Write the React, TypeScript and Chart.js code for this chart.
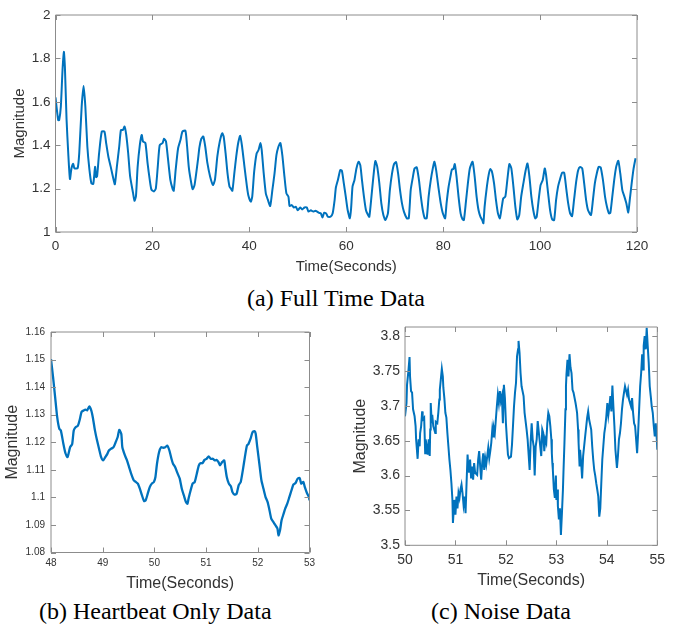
import React, { useEffect, useRef } from "react";
import { Chart, registerables } from "chart.js";

Chart.register(...registerables);

// ---------- (a) Full Time Data ----------
const aTime = [
  0, 0.55, 0.76, 1.1, 1.45, 1.73, 1.94, 2.28, 2.63, 2.98, 3.3, 3.67, 3.9, 4.57, 4.9, 5.4, 5.8, 6.16, 6.57, 7.0,
  7.4, 7.8, 8.17, 8.37, 8.58, 9.0, 9.55, 10.1, 10.45, 10.9, 11.4, 12.0, 12.25, 12.66, 13.15, 13.5, 13.9, 14.25, 14.6, 15.0,
  15.4, 16.0, 16.3, 16.6, 16.95, 17.4, 17.8, 18.06, 18.55, 19.0, 19.45, 19.8, 20.3, 20.7, 21.1, 21.5, 22.1, 22.4, 22.8, 23.2,
  23.7, 24.15, 24.4, 24.8, 25.3, 25.8, 26.2, 26.8, 27.1, 27.5, 27.9, 28.3, 28.7, 29.4, 29.7, 30.1, 30.5, 30.9, 31.35, 31.9,
  32.5, 32.9, 33.4, 33.9, 34.4, 34.7, 35.1, 35.5, 35.9, 36.2, 36.5, 36.9, 37.3, 37.7, 38.1, 38.5, 39.0, 39.5, 39.8, 40.3,
  40.6, 41.0, 41.5, 41.9, 42.3, 42.55, 42.97, 43.4, 43.8, 44.3, 44.75, 45.2, 45.6, 46.0, 46.4, 46.8, 47.25, 47.65, 48.07, 48.3,
  48.76, 49.2, 49.6, 50.0, 50.5, 50.9, 51.4, 51.86, 52.2, 52.7, 53.2, 53.7, 54.3, 54.75, 55.1, 55.45, 55.85, 56.2, 56.75, 57.2,
  57.6, 57.86, 58.3, 58.76, 59.1, 59.5, 59.9, 60.3, 60.75, 61.0, 61.3, 61.7, 62.1, 62.55, 62.9, 63.24, 63.65, 64.07, 64.5, 64.76,
  65.2, 65.6, 66.0, 66.4, 66.83, 67.24, 67.66, 68.07, 68.6, 69.0, 69.45, 69.86, 70.28, 70.7, 71.1, 71.5, 71.9, 72.5, 72.9, 73.3,
  73.7, 74.1, 74.55, 75.0, 75.4, 75.8, 76.2, 76.6, 77.0, 77.45, 77.86, 78.2, 78.55, 79.1, 79.5, 79.93, 80.4, 80.7, 81.1, 81.5,
  81.8, 82.1, 82.4, 82.76, 83.17, 83.6, 84.0, 84.28, 84.7, 85.1, 85.5, 86.07, 86.5, 86.9, 87.3, 87.7, 88.07, 88.3, 88.55, 88.97,
  89.38, 89.72, 90.07, 90.5, 90.9, 91.3, 91.7, 92.1, 92.4, 92.83, 93.24, 93.66, 94.07, 94.5, 94.9, 95.3, 95.7, 96.1, 96.55, 96.97,
  97.4, 97.8, 98.2, 98.6, 99.0, 99.3, 99.7, 100.1, 100.55, 100.97, 101.24, 101.66, 102.07, 102.5, 102.9, 103.3, 103.7, 104.1, 104.55, 104.97,
  105.4, 105.8, 106.2, 106.6, 107.0, 107.45, 107.86, 108.28, 108.7, 109.1, 109.5, 109.9, 110.5, 110.9, 111.3, 111.7, 112.1, 112.5, 112.97, 113.4,
  113.8, 114.2, 114.5, 114.9, 115.3, 115.7, 116.14, 116.55, 116.97, 117.4, 117.8, 118.2, 118.5, 118.9, 119.3, 119.7,
];
const aMag = [
  1.62, 1.516, 1.516, 1.578, 1.746, 1.83, 1.76, 1.52, 1.363, 1.244, 1.294, 1.314, 1.294, 1.294, 1.363, 1.578, 1.673, 1.578, 1.394, 1.287,
  1.225, 1.222, 1.3, 1.253, 1.256, 1.363, 1.463, 1.463, 1.41, 1.348, 1.3, 1.24, 1.22, 1.3, 1.394, 1.47, 1.47, 1.486, 1.447, 1.363,
  1.256, 1.18, 1.144, 1.164, 1.3, 1.4, 1.447, 1.417, 1.41, 1.317, 1.24, 1.195, 1.187, 1.2, 1.3, 1.4, 1.41, 1.43, 1.417, 1.34,
  1.24, 1.2, 1.19, 1.287, 1.386, 1.425, 1.463, 1.467, 1.41, 1.3, 1.24, 1.197, 1.217, 1.333, 1.39, 1.43, 1.44, 1.394, 1.317, 1.256,
  1.217, 1.24, 1.348, 1.417, 1.455, 1.44, 1.363, 1.27, 1.21, 1.2, 1.19, 1.27, 1.348, 1.41, 1.443, 1.394, 1.3, 1.21, 1.168, 1.14,
  1.163, 1.278, 1.362, 1.378, 1.41, 1.378, 1.27, 1.178, 1.15, 1.12, 1.193, 1.27, 1.355, 1.393, 1.41, 1.355, 1.255, 1.178, 1.163, 1.12,
  1.124, 1.113, 1.116, 1.1, 1.113, 1.104, 1.113, 1.113, 1.094, 1.1, 1.094, 1.098, 1.089, 1.086, 1.067, 1.089, 1.086, 1.07, 1.07, 1.086,
  1.147, 1.205, 1.242, 1.285, 1.282, 1.224, 1.163, 1.1, 1.063, 1.109, 1.21, 1.24, 1.293, 1.324, 1.308, 1.24, 1.163, 1.1, 1.078, 1.07,
  1.163, 1.255, 1.327, 1.3, 1.224, 1.132, 1.078, 1.055, 1.086, 1.193, 1.27, 1.313, 1.322, 1.27, 1.193, 1.132, 1.094, 1.063, 1.063, 1.193,
  1.247, 1.293, 1.298, 1.24, 1.163, 1.1, 1.063, 1.063, 1.163, 1.24, 1.293, 1.324, 1.285, 1.193, 1.132, 1.086, 1.063, 1.132, 1.205, 1.255,
  1.288, 1.29, 1.313, 1.255, 1.163, 1.086, 1.058, 1.055, 1.14, 1.224, 1.293, 1.324, 1.255, 1.163, 1.1, 1.07, 1.055, 1.04, 1.116, 1.2,
  1.262, 1.29, 1.278, 1.224, 1.147, 1.086, 1.063, 1.116, 1.155, 1.163, 1.24, 1.313, 1.293, 1.208, 1.116, 1.058, 1.078, 1.163, 1.224, 1.278,
  1.316, 1.255, 1.163, 1.1, 1.063, 1.07, 1.147, 1.216, 1.24, 1.293, 1.262, 1.178, 1.1, 1.058, 1.055, 1.147, 1.208, 1.242, 1.273, 1.273,
  1.2, 1.132, 1.086, 1.073, 1.147, 1.232, 1.285, 1.3, 1.293, 1.224, 1.147, 1.1, 1.078, 1.147, 1.224, 1.27, 1.3, 1.298, 1.24, 1.163,
  1.116, 1.086, 1.088, 1.163, 1.24, 1.3, 1.328, 1.27, 1.193, 1.163, 1.132, 1.09, 1.147, 1.224, 1.293, 1.34,
];
const aXTicks = [0, 20, 40, 60, 80, 100, 120];
const aYTicks = [1, 1.2, 1.4, 1.6, 1.8, 2];

// ---------- (b) Heartbeat Only Data ----------
const bTime = [
  48.0, 48.04, 48.08, 48.12, 48.16, 48.19, 48.24, 48.28, 48.32, 48.37, 48.41, 48.44, 48.48, 48.52, 48.56, 48.59, 48.63, 48.67, 48.7, 48.74,
  48.78, 48.81, 48.85, 48.89, 48.93, 48.97, 49.01, 49.05, 49.09, 49.12, 49.16, 49.21, 49.25, 49.29, 49.32, 49.36, 49.38, 49.43, 49.47, 49.51,
  49.55, 49.6, 49.64, 49.68, 49.72, 49.76, 49.8, 49.83, 49.87, 49.91, 49.95, 49.99, 50.02, 50.05, 50.09, 50.13, 50.17, 50.21, 50.25, 50.29,
  50.33, 50.36, 50.4, 50.45, 50.49, 50.53, 50.57, 50.61, 50.64, 50.66, 50.7, 50.74, 50.78, 50.82, 50.86, 50.89, 50.93, 50.97, 51.01, 51.05,
  51.09, 51.13, 51.17, 51.2, 51.24, 51.27, 51.31, 51.35, 51.37, 51.4, 51.44, 51.48, 51.51, 51.55, 51.59, 51.63, 51.67, 51.71, 51.75, 51.79,
  51.82, 51.86, 51.9, 51.94, 51.96, 51.99, 52.03, 52.07, 52.11, 52.15, 52.19, 52.22, 52.26, 52.3, 52.34, 52.38, 52.4, 52.43, 52.46, 52.5,
  52.53, 52.57, 52.61, 52.65, 52.69, 52.73, 52.77, 52.81, 52.84, 52.88, 52.91, 52.95, 52.99, 53.0,
];
const bMag = [
  1.1502, 1.1436, 1.1364, 1.1291, 1.1249, 1.1243, 1.1194, 1.116, 1.1146, 1.1182, 1.1194, 1.1243, 1.1255, 1.126, 1.1285, 1.131, 1.1315, 1.1318, 1.1316, 1.133,
  1.1315, 1.1289, 1.1243, 1.1207, 1.1176, 1.1146, 1.1134, 1.1146, 1.1158, 1.117, 1.1176, 1.1182, 1.12, 1.1219, 1.1245, 1.123, 1.1182, 1.1152, 1.1134, 1.111,
  1.1086, 1.1062, 1.1056, 1.105, 1.1031, 1.1007, 1.0987, 1.0989, 1.1013, 1.1037, 1.105, 1.1056, 1.1074, 1.1122, 1.1164, 1.1182, 1.118, 1.1182, 1.1188, 1.117,
  1.114, 1.1122, 1.111, 1.1086, 1.1068, 1.1031, 1.1007, 1.0983, 1.0977, 1.0995, 1.1025, 1.105, 1.1056, 1.1086, 1.1116, 1.1124, 1.1124, 1.1136, 1.114, 1.1149,
  1.114, 1.114, 1.1134, 1.1136, 1.1128, 1.1116, 1.1128, 1.1134, 1.111, 1.1074, 1.105, 1.104, 1.1019, 1.101, 1.1013, 1.1044, 1.1056, 1.1098, 1.1146, 1.1188,
  1.1194, 1.1213, 1.1237, 1.124, 1.123, 1.1182, 1.1122, 1.1062, 1.1031, 1.1001, 1.0983, 1.0959, 1.0923, 1.0911, 1.0899, 1.0887, 1.0862, 1.0881, 1.0917, 1.0941,
  1.0959, 1.0977, 1.1001, 1.1025, 1.1047, 1.1052, 1.1068, 1.107, 1.105, 1.1056, 1.1037, 1.1016, 1.1001, 1.0989,
];
const bXTicks = [48, 49, 50, 51, 52, 53];
const bYTicks = [1.08, 1.09, 1.1, 1.11, 1.12, 1.13, 1.14, 1.15, 1.16];

// ---------- (c) Noise Data ----------
const cTime = [
  50.0, 50.03, 50.04, 50.07, 50.09, 50.1, 50.12, 50.14, 50.16, 50.19, 50.21, 50.22, 50.25, 50.27, 50.29, 50.3, 50.32, 50.34, 50.35, 50.38,
  50.4, 50.41, 50.45, 50.47, 50.49, 50.5, 50.51, 50.53, 50.54, 50.56, 50.6, 50.61, 50.64, 50.66, 50.68, 50.69, 50.71, 50.73, 50.75, 50.76,
  50.78, 50.8, 50.82, 50.84, 50.86, 50.88, 50.9, 50.92, 50.94, 50.95, 50.97, 50.99, 51.0, 51.02, 51.04, 51.06, 51.08, 51.1, 51.12, 51.14,
  51.16, 51.18, 51.2, 51.22, 51.24, 51.25, 51.27, 51.29, 51.31, 51.33, 51.35, 51.37, 51.39, 51.43, 51.45, 51.47, 51.49, 51.51, 51.53, 51.55,
  51.57, 51.59, 51.61, 51.63, 51.65, 51.67, 51.69, 51.71, 51.73, 51.75, 51.76, 51.78, 51.8, 51.82, 51.84, 51.86, 51.88, 51.9, 51.92, 51.94,
  51.96, 51.98, 52.0, 52.02, 52.04, 52.06, 52.1, 52.12, 52.14, 52.16, 52.18, 52.2, 52.22, 52.24, 52.25, 52.27, 52.29, 52.31, 52.35, 52.37,
  52.41, 52.43, 52.47, 52.49, 52.51, 52.53, 52.55, 52.57, 52.59, 52.61, 52.63, 52.66, 52.7, 52.72, 52.74, 52.76, 52.78, 52.8, 52.82, 52.84,
  52.86, 52.88, 52.9, 52.91, 52.92, 52.93, 52.95, 52.97, 52.99, 53.0, 53.02, 53.03, 53.05, 53.07, 53.09, 53.11, 53.13, 53.14, 53.16, 53.18,
  53.19, 53.2, 53.22, 53.24, 53.26, 53.28, 53.3, 53.32, 53.34, 53.38, 53.4, 53.41, 53.43, 53.44, 53.46, 53.47, 53.49, 53.51, 53.53, 53.57,
  53.61, 53.63, 53.65, 53.69, 53.71, 53.73, 53.75, 53.77, 53.79, 53.81, 53.83, 53.85, 53.87, 53.89, 53.91, 53.93, 53.95, 53.97, 53.99, 54.01,
  54.03, 54.05, 54.07, 54.09, 54.11, 54.13, 54.15, 54.17, 54.2, 54.22, 54.24, 54.26, 54.28, 54.3, 54.32, 54.34, 54.36, 54.4, 54.42, 54.44,
  54.48, 54.5, 54.52, 54.54, 54.56, 54.58, 54.6, 54.62, 54.64, 54.66, 54.68, 54.7, 54.72, 54.73, 54.75, 54.77, 54.79, 54.81, 54.83, 54.85,
  54.87, 54.89, 54.91, 54.93, 54.95, 54.97, 54.99, 55.0,
];
const cMag = [
  3.685, 3.704, 3.73, 3.752, 3.77, 3.742, 3.721, 3.719, 3.695, 3.685, 3.671, 3.652, 3.624, 3.652, 3.642, 3.661, 3.671, 3.692, 3.68, 3.683,
  3.632, 3.652, 3.63, 3.652, 3.628, 3.666, 3.704, 3.675, 3.687, 3.671, 3.661, 3.677, 3.675, 3.69, 3.709, 3.723, 3.738, 3.753, 3.742, 3.726,
  3.711, 3.69, 3.683, 3.661, 3.642, 3.623, 3.608, 3.589, 3.565, 3.532, 3.556, 3.565, 3.544, 3.57, 3.553, 3.575, 3.568, 3.58, 3.587, 3.575,
  3.558, 3.57, 3.546, 3.589, 3.63, 3.618, 3.604, 3.623, 3.596, 3.613, 3.594, 3.618, 3.604, 3.601, 3.623, 3.635, 3.613, 3.594, 3.618, 3.632,
  3.608, 3.625, 3.616, 3.628, 3.64, 3.625, 3.635, 3.647, 3.666, 3.656, 3.668, 3.661, 3.68, 3.699, 3.716, 3.704, 3.721, 3.707, 3.714, 3.675,
  3.73, 3.711, 3.675, 3.652, 3.63, 3.625, 3.627, 3.644, 3.671, 3.699, 3.719, 3.733, 3.771, 3.781, 3.793, 3.776, 3.747, 3.728, 3.714, 3.69,
  3.666, 3.652, 3.608, 3.647, 3.675, 3.652, 3.642, 3.6, 3.642, 3.652, 3.678, 3.656, 3.628, 3.666, 3.661, 3.635, 3.652, 3.647, 3.675, 3.69,
  3.685, 3.671, 3.652, 3.632, 3.618, 3.608, 3.58, 3.568, 3.6, 3.565, 3.58, 3.556, 3.537, 3.553, 3.515, 3.546, 3.58, 3.604, 3.647, 3.695,
  3.728, 3.745, 3.766, 3.742, 3.774, 3.755, 3.747, 3.723, 3.719, 3.704, 3.695, 3.69, 3.666, 3.647, 3.613, 3.637, 3.62, 3.596, 3.628, 3.656,
  3.683, 3.692, 3.68, 3.666, 3.642, 3.623, 3.608, 3.6, 3.589, 3.58, 3.57, 3.541, 3.553, 3.589, 3.623, 3.642, 3.661, 3.671, 3.685, 3.704,
  3.687, 3.699, 3.714, 3.692, 3.729, 3.699, 3.671, 3.637, 3.611, 3.628, 3.652, 3.661, 3.675, 3.695, 3.709, 3.719, 3.728, 3.716, 3.723, 3.709,
  3.699, 3.711, 3.69, 3.675, 3.671, 3.652, 3.632, 3.661, 3.695, 3.728, 3.747, 3.774, 3.752, 3.786, 3.8, 3.781, 3.812, 3.786, 3.762, 3.728,
  3.714, 3.699, 3.69, 3.671, 3.656, 3.675, 3.652, 3.637, 3.625, 3.652, 3.666,
];
const cXTicks = [50, 51, 52, 53, 54, 55];
const cYTicks = [3.5, 3.55, 3.6, 3.65, 3.7, 3.75, 3.8];

const LINE = "#0072BD";
const AXIS = "#8c8c8c";
const TEXT = "#333333";
const SANS = "'Liberation Sans', Arial, Helvetica, sans-serif";

const fmt = (v: number) => String(Number(Number(v).toFixed(3)));

const boxPlugin = {
  id: "matlabBox",
  afterDraw(chart: any) {
    const { ctx, chartArea: a, scales } = chart;
    const len = 5;
    ctx.save();
    ctx.strokeStyle = AXIS;
    ctx.lineWidth = 1;
    ctx.beginPath();
    ctx.rect(a.left, a.top, a.right - a.left, a.bottom - a.top);
    ctx.stroke();
    ctx.beginPath();
    for (const t of scales.x.ticks) {
      const px = Math.round(scales.x.getPixelForValue(t.value)) + 0.5;
      ctx.moveTo(px, a.bottom);
      ctx.lineTo(px, a.bottom - len);
      ctx.moveTo(px, a.top);
      ctx.lineTo(px, a.top + len);
    }
    for (const t of scales.y.ticks) {
      const py = Math.round(scales.y.getPixelForValue(t.value)) + 0.5;
      ctx.moveTo(a.left, py);
      ctx.lineTo(a.left + len, py);
      ctx.moveTo(a.right, py);
      ctx.lineTo(a.right - len, py);
    }
    ctx.stroke();
    ctx.restore();
  },
};

type Spec = {
  xs: number[];
  ys: number[];
  xTicks: number[];
  yTicks: number[];
  yMax?: number;
  pad: { left: number; top: number; right: number; bottom: number };
  yWidth: number;
  xHeight: number;
  tickSize: number;
  titleSize: number;
  xTickPad: number;
  yTickPad: number;
  xTitlePad: number;
  yTitlePad: number;
  lineWidth: number;
  tension: number;
};

function makeConfig(s: Spec): any {
  const data = s.xs.map((x, i) => ({ x, y: s.ys[i] }));
  const xMin = s.xTicks[0];
  const xMax = s.xTicks[s.xTicks.length - 1];
  const yMin = s.yTicks[0];
  const yMax = s.yMax ?? s.yTicks[s.yTicks.length - 1];
  return {
    type: "line",
    data: {
      datasets: [
        {
          data,
          borderColor: LINE,
          borderWidth: s.lineWidth,
          pointRadius: 0,
          tension: s.tension,
          fill: false,
        },
      ],
    },
    options: {
      animation: false,
      responsive: false,
      events: [],
      layout: { padding: s.pad },
      plugins: { legend: { display: false }, tooltip: { enabled: false } },
      scales: {
        x: {
          type: "linear",
          min: xMin,
          max: xMax,
          grid: { display: false, drawTicks: false },
          border: { display: false },
          afterBuildTicks: (sc: any) => {
            sc.ticks = s.xTicks.map((value) => ({ value }));
          },
          ticks: {
            autoSkip: false,
            maxRotation: 0,
            padding: s.xTickPad,
            color: TEXT,
            font: { family: SANS, size: s.tickSize },
            callback: (v: number) => fmt(v),
          },
          title: {
            display: true,
            text: "Time(Seconds)",
            color: TEXT,
            font: { family: SANS, size: s.titleSize },
            padding: { top: 0, bottom: s.xTitlePad },
          },
          afterFit: (sc: any) => {
            sc.height = s.xHeight;
            sc.paddingLeft = 0;
            sc.paddingRight = 0;
          },
        },
        y: {
          type: "linear",
          min: yMin,
          max: yMax,
          grid: { display: false, drawTicks: false },
          border: { display: false },
          afterBuildTicks: (sc: any) => {
            sc.ticks = s.yTicks.map((value) => ({ value }));
          },
          ticks: {
            autoSkip: false,
            padding: s.yTickPad,
            color: TEXT,
            font: { family: SANS, size: s.tickSize },
            callback: (v: number) => fmt(v),
          },
          title: {
            display: true,
            text: "Magnitude",
            color: TEXT,
            font: { family: SANS, size: s.titleSize },
            padding: { top: s.yTitlePad, bottom: 0 },
          },
          afterFit: (sc: any) => {
            sc.width = s.yWidth;
            sc.paddingTop = 0;
            sc.paddingBottom = 0;
          },
        },
      },
    },
    plugins: [boxPlugin],
  };
}

function Plot(props: { spec: Spec; w: number; h: number; left: number; top: number }) {
  const ref = useRef<HTMLCanvasElement | null>(null);
  useEffect(() => {
    if (!ref.current) return;
    const chart = new Chart(ref.current, makeConfig(props.spec));
    return () => chart.destroy();
  }, []);
  return (
    <canvas
      ref={ref}
      width={props.w}
      height={props.h}
      style={{ position: "absolute", left: props.left, top: props.top, width: props.w, height: props.h }}
    />
  );
}

const specA: Spec = {
  xs: aTime,
  ys: aMag,
  xTicks: aXTicks,
  yTicks: aYTicks,
  pad: { left: 0, top: 15, right: 39, bottom: 0 },
  yWidth: 55.5,
  xHeight: 48,
  tickSize: 13.5,
  titleSize: 15,
  xTickPad: 6,
  yTickPad: 5,
  xTitlePad: 4,
  yTitlePad: 11,
  lineWidth: 2,
  tension: 0.2,
};

const specB: Spec = {
  xs: bTime,
  ys: bMag,
  xTicks: bXTicks,
  yTicks: bYTicks,
  pad: { left: 0, top: 22, right: 20.5, bottom: 0 },
  yWidth: 51,
  xHeight: 42.5,
  tickSize: 10,
  titleSize: 16,
  xTickPad: 5,
  yTickPad: 6,
  xTitlePad: 2,
  yTitlePad: 3,
  lineWidth: 2.3,
  tension: 0.2,
};

const specC: Spec = {
  xs: cTime,
  ys: cMag,
  xTicks: cXTicks,
  yTicks: cYTicks,
  yMax: 3.813,
  pad: { left: 0, top: 17, right: 18.7, bottom: 0 },
  yWidth: 65,
  xHeight: 49.7,
  tickSize: 14,
  titleSize: 16,
  xTickPad: 6,
  yTickPad: 5,
  xTitlePad: 4.7,
  yTitlePad: 11.4,
  lineWidth: 2,
  tension: 0,
};

const caption: React.CSSProperties = {
  position: "absolute",
  fontFamily: "'Liberation Serif', 'Times New Roman', serif",
  fontSize: 24,
  lineHeight: "24px",
  color: "#000",
  whiteSpace: "nowrap",
};

export default function App() {
  return (
    <div style={{ position: "absolute", left: 0, top: 0, width: 676, height: 629, background: "#fff", overflow: "hidden" }}>
      <Plot spec={specA} w={676} h={280} left={0} top={0} />
      <div style={{ ...caption, left: 0, width: 672, textAlign: "center", top: 286 }}>(a) Full Time Data</div>
      <Plot spec={specB} w={330} h={285} left={0} top={310} />
      <Plot spec={specC} w={336} h={285} left={340} top={310} />
      <div style={{ ...caption, left: 39, top: 599 }}>(b) Heartbeat Only Data</div>
      <div style={{ ...caption, left: 431, top: 599 }}>(c) Noise Data</div>
    </div>
  );
}
